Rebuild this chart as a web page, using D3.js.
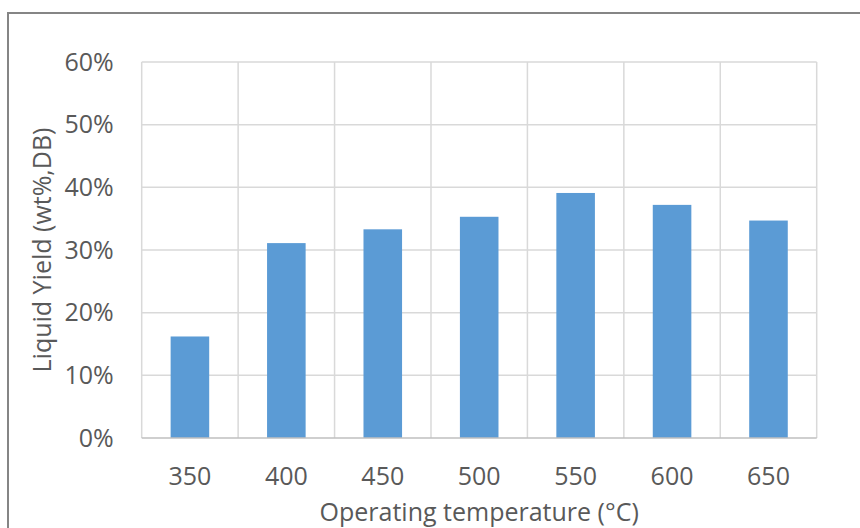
<!DOCTYPE html>
<html><head><meta charset="utf-8">
<script src="https://cdn.jsdelivr.net/npm/d3@7"></script>
<style>body{margin:0;background:#fff;}svg{display:block;}</style>
</head><body>
<svg id="chart" width="860" height="528"></svg>
<script>
const categories = ["350","400","450","500","550","600","650"];
const values = [16.2, 31.1, 33.3, 35.3, 39.1, 37.2, 34.7];
const yTicks = [0,10,20,30,40,50,60];
const xTitle = "Operating temperature (°C)";
const yTitle = "Liquid Yield (wt%,DB)";

const svg = d3.select("#chart");
const W = 860, H = 528;
const font = "'Open Sans', sans-serif";
const fs = 25;
const textColor = "#595959";
const m = {left:141.7, right:816.7, top:62, bottom:438};

svg.append("rect").attr("x",8).attr("y",13).attr("width",W).attr("height",H)
  .attr("fill","#fff").attr("stroke","#858585").attr("stroke-width",2);

const x = d3.scaleBand().domain(categories).range([m.left,m.right]).paddingInner(0.6).paddingOuter(0.3);
const xEdges = d3.scaleLinear().domain([0,categories.length]).range([m.left,m.right]);
const y = d3.scaleLinear().domain([0,60]).range([m.bottom,m.top]);

// horizontal gridlines
svg.append("g").selectAll("line").data(yTicks.filter(d=>d>0)).join("line")
  .attr("x1",m.left).attr("x2",m.right).attr("y1",d=>y(d)).attr("y2",d=>y(d))
  .attr("stroke","#d9d9d9").attr("stroke-width",1.5);
// vertical gridlines
svg.append("g").selectAll("line").data(d3.range(categories.length+1)).join("line")
  .attr("x1",d=>xEdges(d)).attr("x2",d=>xEdges(d)).attr("y1",m.top).attr("y2",m.bottom)
  .attr("stroke","#d9d9d9").attr("stroke-width",1.5);

// bars
svg.append("g").selectAll("rect").data(values).join("rect")
  .attr("x",(d,i)=>x(categories[i])).attr("width",x.bandwidth())
  .attr("y",d=>y(d)).attr("height",d=>y(0)-y(d))
  .attr("fill","#5b9bd5");

// x axis line
svg.append("line").attr("x1",m.left).attr("x2",m.right).attr("y1",m.bottom).attr("y2",m.bottom)
  .attr("stroke","#bfbfbf").attr("stroke-width",1.5);

// y tick labels
const yAxis = d3.axisLeft(y).tickValues(yTicks).tickFormat(d=>d+"%").tickSize(0).tickPadding(28);
const gy = svg.append("g").attr("transform",`translate(${m.left},0)`).call(yAxis);
gy.select(".domain").remove();
gy.selectAll("text").attr("font-family",font).attr("font-size",fs).attr("fill",textColor);

// x tick labels
const xAxis = d3.axisBottom(x).tickSize(0).tickPadding(29);
const gx = svg.append("g").attr("transform",`translate(0,${m.bottom})`).call(xAxis);
gx.select(".domain").remove();
gx.selectAll("text").attr("font-family",font).attr("font-size",fs).attr("fill",textColor);

// axis titles
svg.append("text").attr("x",(m.left+m.right)/2).attr("y",521).attr("text-anchor","middle")
  .attr("font-family",font).attr("font-size",fs).attr("fill",textColor).text(xTitle);
svg.append("text").attr("transform",`translate(51,${(m.top+m.bottom)/2}) rotate(-90)`)
  .attr("text-anchor","middle").attr("font-family",font).attr("font-size",fs).attr("fill",textColor).text(yTitle);
</script>
</body></html>
